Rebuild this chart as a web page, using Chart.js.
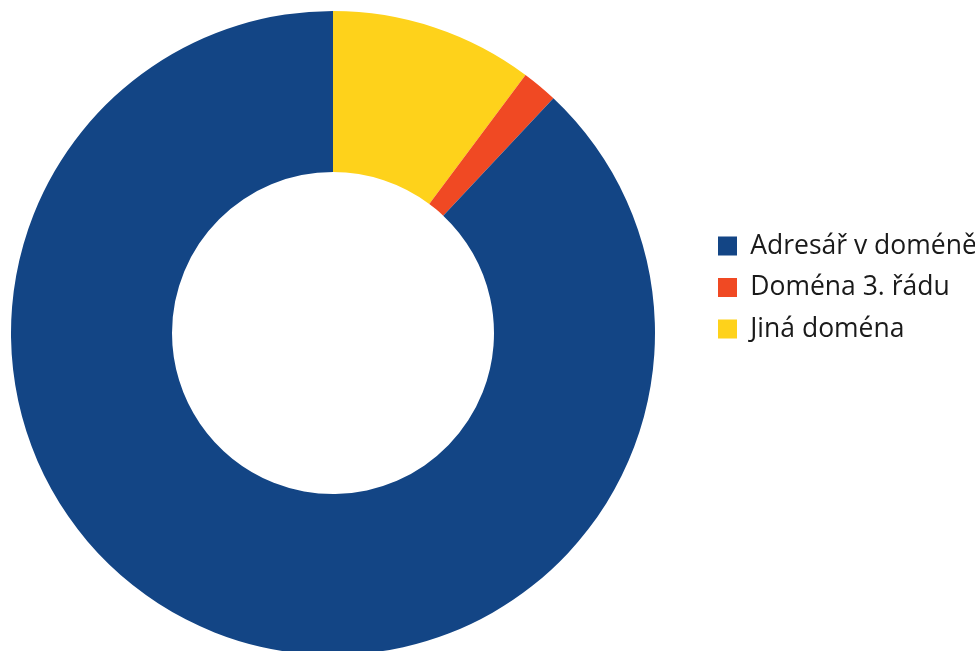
<!DOCTYPE html>
<html>
<head>
<meta charset="utf-8">
<script src="https://cdn.jsdelivr.net/npm/chart.js@4"></script>
<style>
  html, body { margin: 0; padding: 0; width: 975px; height: 651px; overflow: hidden; background: #fff; }
  #c { position: absolute; left: -40px; top: 0; }
</style>
</head>
<body>
<canvas id="c"></canvas>
<script>
// Data (drawn clockwise from top; legend shown in reverse order)
const categories = ["Jiná doména", "Doména 3. řádu", "Adresář v doméně"];
const shares = [10.2, 1.8, 88.0];
const sliceColors = ["#FED21B", "#F04923", "#134585"];

const FONT_FAMILY = '"Open Sans", "Noto Sans", sans-serif';
const FONT_SIZE = 26.5;
const BOX = 19;
const LPAD = 15;
const CHART_RIGHT = 743;   // chart area right edge in canvas px

const canvas = document.getElementById('c');
const mctx = canvas.getContext('2d');
mctx.font = FONT_SIZE + 'px ' + FONT_FAMILY;
let maxText = 0;
categories.forEach(t => { maxText = Math.max(maxText, mctx.measureText(t).width); });
const legendWidth = LPAD + BOX + FONT_SIZE / 2 + maxText + 10;
canvas.width = Math.ceil(CHART_RIGHT + legendWidth) + 2;
canvas.height = 666;
const padRight = canvas.width - CHART_RIGHT - legendWidth;

new Chart(canvas, {
  type: 'doughnut',
  data: {
    labels: categories,
    datasets: [{
      data: shares,
      backgroundColor: sliceColors,
      borderWidth: 0,
      hoverOffset: 0
    }]
  },
  options: {
    responsive: false,
    animation: false,
    cutout: '50%',
    layout: { padding: { left: 3, top: 11, bottom: 11, right: padRight } },
    plugins: {
      tooltip: { enabled: false },
      legend: {
        position: 'right',
        align: 'start',
        reverse: true,
        title: { display: true, text: '', padding: { top: 192.35, bottom: 0 } },
        labels: {
          boxWidth: BOX,
          boxHeight: BOX,
          padding: LPAD,
          color: '#1a1a1a',
          font: { family: FONT_FAMILY, size: FONT_SIZE }
        }
      }
    }
  }
});
</script>
</body>
</html>
